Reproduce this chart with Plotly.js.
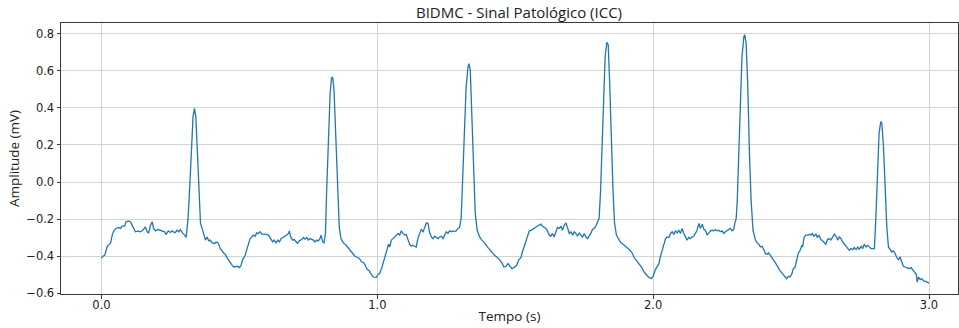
<!DOCTYPE html>
<html>
<head>
<meta charset="utf-8">
<script src="https://cdn.plot.ly/plotly-3.0.1.min.js"></script>
<style>
html,body{margin:0;padding:0;background:#fff;overflow:hidden;}
#chart{width:959px;height:328px;}
</style>
</head>
<body>
<div id="chart"></div>
<script>
// Time (s)
const tempo = [
0.000,0.005,0.012,0.021,0.026,0.033,0.039,0.045,0.053,0.061,0.069,0.075,0.084,0.089,0.099,0.105,0.111,0.117,0.123,0.133,
0.141,0.150,0.159,0.166,0.171,0.178,0.184,0.189,0.196,0.205,0.214,0.220,0.229,0.234,0.242,0.250,0.256,0.266,0.274,0.280,
0.286,0.295,0.302,0.307,0.314,0.320,0.326,0.332,0.337,0.342,0.348,0.353,0.359,0.365,0.371,0.377,0.383,0.389,0.395,0.401,
0.411,0.416,0.423,0.431,0.440,0.449,0.455,0.461,0.467,0.474,0.479,
0.484,0.493,0.500,0.505,0.512,0.521,0.526,0.533,0.539,0.545,0.551,0.557,0.563,0.569,0.575,0.581,0.593,0.605,0.613,0.621,
0.626,0.633,0.639,0.645,0.651,0.659,0.666,0.671,0.678,0.681,0.686,0.693,0.699,0.705,0.711,0.717,0.726,0.732,0.738,0.744,
0.750,0.756,0.762,0.768,0.774,0.780,0.786,0.792,0.796,0.802,0.807,0.812,0.816,0.822,0.829,0.834,0.838,0.843,0.849,0.855,
0.862,0.868,0.877,0.887,0.895,0.903,0.911,0.919,0.928,0.935,0.943,0.952,0.959,0.964,0.971,0.976,0.983,
0.988,0.996,1.003,1.008,1.017,1.024,1.032,1.036,1.041,1.045,1.051,1.057,1.063,1.069,1.075,1.081,1.087,1.093,1.099,1.105,
1.111,1.117,1.123,1.129,1.135,1.141,1.147,1.153,1.159,1.166,1.171,1.178,1.184,1.189,1.196,1.202,1.208,1.214,1.220,1.226,
1.232,1.238,1.244,1.250,1.256,1.262,1.268,1.274,1.280,1.286,1.292,1.298,1.304,1.310,1.316,1.322,1.329,1.332,1.337,1.343,
1.349,1.355,1.362,1.371,1.379,1.389,1.399,1.407,1.416,1.425,1.435,1.443,1.452,1.459,1.467,1.474,1.483,
1.488,1.496,1.505,1.512,1.521,1.526,1.533,1.539,1.545,1.551,1.557,1.563,1.569,1.575,1.581,1.587,1.593,1.599,1.605,1.611,
1.617,1.623,1.629,1.635,1.641,1.647,1.653,1.659,1.666,1.671,1.678,1.684,1.689,1.696,1.702,1.708,1.714,1.720,1.726,1.732,
1.738,1.744,1.750,1.756,1.762,1.768,1.774,1.780,1.786,1.792,1.798,1.804,1.809,1.814,1.820,1.826,1.832,1.837,1.842,1.848,
1.854,1.860,1.867,1.874,1.883,1.891,1.899,1.907,1.916,1.925,1.931,1.939,1.949,1.959,1.967,1.976,1.983,
1.993,2.000,2.008,2.014,2.021,2.026,2.033,2.039,2.045,2.051,2.057,2.063,2.069,2.075,2.081,2.087,2.093,2.099,2.105,2.111,
2.117,2.123,2.129,2.135,2.141,2.147,2.153,2.159,2.166,2.171,2.178,2.184,2.189,2.196,2.202,2.208,2.214,2.220,2.226,2.232,
2.238,2.244,2.250,2.256,2.262,2.268,2.274,2.280,2.286,2.292,2.296,2.301,2.305,2.310,2.316,2.322,2.329,2.332,2.337,2.343,
2.349,2.355,2.362,2.371,2.377,2.383,2.389,2.395,2.401,2.407,2.413,2.419,2.425,2.431,2.440,2.449,2.459,2.467,2.476,
2.484,2.490,2.496,2.503,2.508,2.514,2.521,2.526,2.533,2.539,2.542,2.547,2.553,2.561,2.566,2.572,2.577,2.583,2.590,2.595,
2.601,2.608,2.614,2.621,2.626,2.632,2.638,2.644,2.650,2.657,2.663,2.669,2.675,2.681,2.687,2.693,2.699,2.705,2.711,2.717,
2.724,2.729,2.736,2.742,2.747,2.754,2.760,2.765,2.772,2.778,2.784,2.790,2.796,2.802,2.807,2.813,2.819,2.825,2.829,2.835,
2.841,2.847,2.853,2.859,2.865,2.871,2.877,2.883,2.889,2.895,2.901,2.907,2.913,2.919,2.928,2.935,2.942,2.947,2.954,2.957,
2.962,2.968,2.974,2.981,2.986,2.993,3.000
];
// Amplitude (mV)
const amplitude = [
-0.410,-0.400,-0.395,-0.346,-0.340,-0.330,-0.286,-0.263,-0.250,-0.245,-0.250,-0.238,-0.238,-0.214,-0.211,-0.214,-0.232,-0.250,-0.268,-0.265,
-0.268,-0.260,-0.242,-0.268,-0.274,-0.232,-0.214,-0.250,-0.263,-0.256,-0.260,-0.263,-0.268,-0.283,-0.263,-0.272,-0.263,-0.274,-0.260,-0.268,
-0.256,-0.277,-0.286,-0.299,-0.196,-0.025,0.155,0.353,0.398,0.353,0.155,-0.061,-0.223,-0.250,-0.286,-0.313,-0.296,-0.317,-0.313,-0.328,
-0.331,-0.323,-0.328,-0.359,-0.377,-0.391,-0.407,-0.422,-0.431,-0.449,-0.458,
-0.458,-0.454,-0.461,-0.454,-0.418,-0.395,-0.368,-0.331,-0.305,-0.296,-0.286,-0.292,-0.274,-0.277,-0.268,-0.281,-0.281,-0.286,-0.305,-0.323,
-0.313,-0.328,-0.313,-0.323,-0.305,-0.299,-0.292,-0.286,-0.277,-0.263,-0.296,-0.313,-0.310,-0.323,-0.331,-0.317,-0.310,-0.299,-0.308,-0.299,
-0.313,-0.305,-0.310,-0.313,-0.323,-0.313,-0.317,-0.305,-0.286,-0.323,-0.328,-0.277,-0.061,0.245,0.479,0.561,0.566,0.497,0.245,-0.025,
-0.242,-0.305,-0.328,-0.341,-0.355,-0.371,-0.385,-0.400,-0.407,-0.412,-0.431,-0.436,-0.458,-0.472,-0.479,-0.494,-0.508,
-0.512,-0.515,-0.497,-0.494,-0.458,-0.422,-0.385,-0.350,-0.335,-0.350,-0.313,-0.305,-0.296,-0.286,-0.277,-0.286,-0.263,-0.277,-0.286,-0.283,
-0.313,-0.335,-0.346,-0.341,-0.346,-0.350,-0.305,-0.277,-0.256,-0.268,-0.250,-0.220,-0.223,-0.268,-0.296,-0.305,-0.292,-0.299,-0.305,-0.296,
-0.292,-0.305,-0.286,-0.268,-0.277,-0.263,-0.268,-0.263,-0.266,-0.263,-0.250,-0.245,-0.196,0.011,0.263,0.515,0.623,0.638,0.605,0.371,
0.083,-0.169,-0.260,-0.296,-0.313,-0.328,-0.350,-0.364,-0.385,-0.395,-0.407,-0.418,-0.436,-0.458,-0.454,-0.440,-0.458,
-0.467,-0.461,-0.449,-0.422,-0.407,-0.377,-0.346,-0.313,-0.292,-0.263,-0.260,-0.256,-0.250,-0.242,-0.238,-0.232,-0.227,-0.238,-0.242,-0.250,
-0.263,-0.286,-0.292,-0.277,-0.296,-0.263,-0.245,-0.250,-0.238,-0.260,-0.232,-0.220,-0.250,-0.277,-0.268,-0.286,-0.268,-0.277,-0.292,-0.274,
-0.286,-0.296,-0.277,-0.296,-0.305,-0.292,-0.277,-0.256,-0.250,-0.238,-0.214,-0.196,-0.061,0.191,0.479,0.677,0.753,0.741,0.551,0.245,
-0.025,-0.223,-0.286,-0.305,-0.328,-0.335,-0.346,-0.353,-0.368,-0.385,-0.407,-0.422,-0.440,-0.461,-0.485,-0.503,-0.512,
-0.521,-0.508,-0.472,-0.458,-0.440,-0.404,-0.368,-0.335,-0.305,-0.296,-0.299,-0.277,-0.268,-0.281,-0.263,-0.274,-0.260,-0.277,-0.250,-0.277,
-0.299,-0.313,-0.299,-0.305,-0.296,-0.292,-0.277,-0.260,-0.223,-0.250,-0.227,-0.256,-0.260,-0.286,-0.274,-0.263,-0.260,-0.263,-0.256,-0.263,
-0.260,-0.268,-0.263,-0.277,-0.268,-0.263,-0.256,-0.250,-0.263,-0.256,-0.223,-0.196,-0.097,0.119,0.425,0.677,0.785,0.795,0.750,0.515,
0.155,-0.097,-0.260,-0.313,-0.328,-0.335,-0.350,-0.346,-0.364,-0.385,-0.389,-0.382,-0.395,-0.407,-0.425,-0.449,-0.476,-0.490,-0.503,
-0.521,-0.508,-0.512,-0.494,-0.467,-0.461,-0.412,-0.385,-0.368,-0.341,-0.350,-0.299,-0.286,-0.286,-0.281,-0.286,-0.277,-0.292,-0.281,-0.299,
-0.286,-0.310,-0.317,-0.328,-0.335,-0.310,-0.305,-0.313,-0.296,-0.281,-0.292,-0.313,-0.296,-0.305,-0.323,-0.335,-0.346,-0.359,-0.368,-0.359,
-0.364,-0.353,-0.364,-0.350,-0.364,-0.346,-0.359,-0.335,-0.350,-0.341,-0.353,-0.359,-0.359,-0.359,-0.205,0.065,0.263,0.326,0.317,0.191,
-0.025,-0.242,-0.350,-0.368,-0.377,-0.371,-0.385,-0.407,-0.418,-0.404,-0.431,-0.454,-0.458,-0.461,-0.467,-0.461,-0.472,-0.485,-0.497,-0.539,
-0.512,-0.526,-0.521,-0.534,-0.534,-0.542,-0.545
];
const xTicks = [0.0, 1.0, 2.0, 3.0];
const yTicks = [-0.6, -0.4, -0.2, 0.0, 0.2, 0.4, 0.6, 0.8];
const titulo = "BIDMC - Sinal Patológico (ICC)";
const xLabel = "Tempo (s)";
const yLabel = "Amplitude (mV)";

const tickFont = {family: "DejaVu Sans", size: 11.5, color: "#222"};
const labelFont = {family: "Open Sans", size: 13.5, color: "#222"};

const trace = {
  x: tempo, y: amplitude, type: "scatter", mode: "lines",
  line: {color: "#1f77b4", width: 1.3}, hoverinfo: "skip"
};

const layout = {
  width: 959, height: 328,
  margin: {l: 61, r: 1, t: 23, b: 34, pad: 0},
  paper_bgcolor: "#fff", plot_bgcolor: "#fff",
  showlegend: false,
  title: {text: titulo, font: {family: "Open Sans", size: 15, color: "#222"},
          xref: "container", x: 519/959, xanchor: "center",
          yref: "container", y: 1 - 13/328, yanchor: "middle"},
  xaxis: {
    range: [-0.1467, 3.1051], tickvals: xTicks, tickformat: ".1f",
    showgrid: true, gridcolor: "#d3d3d3", gridwidth: 1,
    zeroline: false, showline: true, linecolor: "#3a3a3a", linewidth: 1, mirror: true,
    ticks: "outside", ticklen: 3.5, tickcolor: "#3a3a3a", tickfont: tickFont,
    ticklabelstandoff: -3,
    title: {text: xLabel, font: labelFont, standoff: 0}
  },
  yaxis: {
    range: [-0.6036, 0.8578], tickvals: yTicks, tickformat: ".1f",
    showgrid: true, gridcolor: "#d3d3d3", gridwidth: 1,
    zeroline: false, showline: true, linecolor: "#3a3a3a", linewidth: 1, mirror: true,
    ticks: "outside", ticklen: 3.5, tickcolor: "#3a3a3a", tickfont: tickFont,
    title: {text: yLabel, font: labelFont, standoff: 3}
  }
};

Plotly.newPlot("chart", [trace], layout, {displayModeBar: false, staticPlot: true});
</script>
</body>
</html>
